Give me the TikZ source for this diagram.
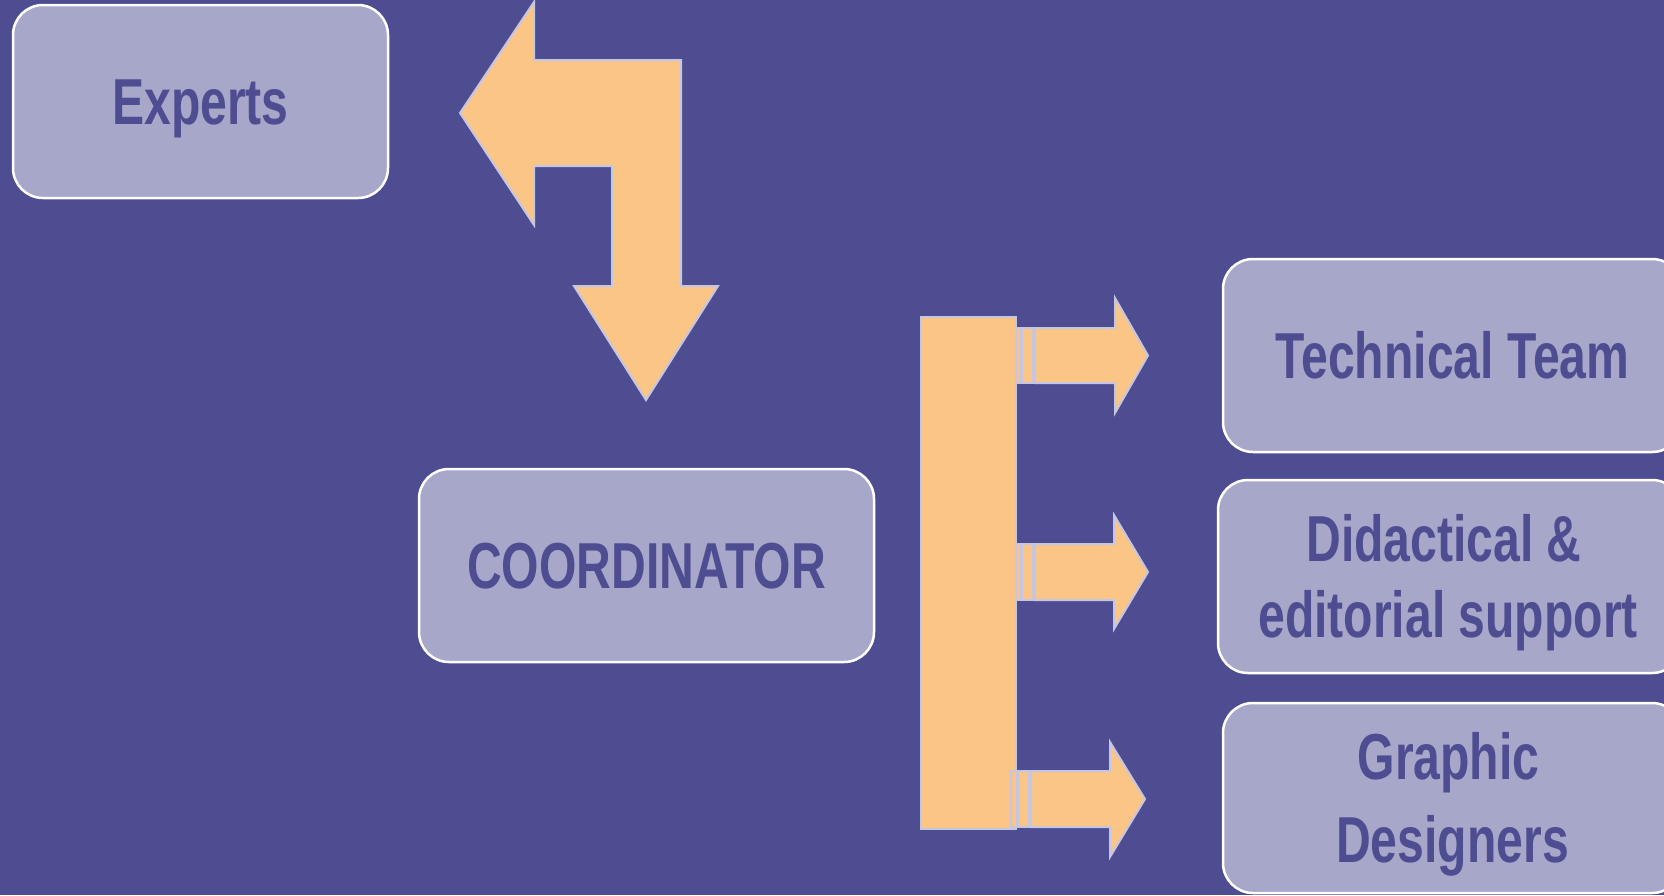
\documentclass[tikz,border=0pt]{standalone}
\usepackage{fontspec}
\newfontfamily\labfont{Liberation Sans}[FakeStretch=0.74]
\definecolor{bg}{HTML}{4F4D91}
\definecolor{boxfill}{HTML}{A7A7C9}
\definecolor{arrfill}{HTML}{FAC585}
\definecolor{arredge}{HTML}{C6C6E2}
\tikzset{
  box/.style={draw=white, line width=2.5pt, fill=boxfill, rounded corners=30pt,
    inner sep=0pt, text=bg, align=center,
    font=\labfont\bfseries\fontsize{65}{76}\selectfont,
    text height=45pt, text depth=0pt},
  shapearrow/.style={draw=arredge, line width=2pt, fill=arrfill, line join=miter},
  stripe/.style={draw=arredge, line width=1.5pt, fill=arrfill},
}
\begin{document}
\begin{tikzpicture}[x=1pt,y=-1pt]
\fill[bg] (0,0) rectangle (1664,895);
\useasboundingbox (0,0) rectangle (1664,895);
\clip (0,0) rectangle (1664,895);

% boxes
\node[box, minimum width=375pt, minimum height=193pt] (experts) at (200.5,101.5) {Experts};
\node[box, minimum width=455pt, minimum height=193pt] (coord) at (646.5,565.5) {COORDINATOR};
\node[box, minimum width=459pt, minimum height=193pt] (tech) at (1452.5,355.5) {Technical Team};
\node[box, minimum width=464pt, minimum height=193pt, text height=121pt] (did) at (1450,576.5) {Didactical \&\hspace*{12pt}\\editorial support\hspace*{4pt}};
\node[box, minimum width=459pt, minimum height=190pt, text height=128pt,
  font=\labfont\bfseries\fontsize{65}{83}\selectfont] (graph) at (1452.5,798) {Graphic\hspace*{8pt}\\Designers};

% bent double arrow between Experts and Coordinator
\draw[shapearrow] (460,113) -- (534,2) -- (534,60) -- (681,60) -- (681,286)
  -- (718,286) -- (646,400) -- (574,286) -- (612,286) -- (612,166)
  -- (534,166) -- (534,225) -- cycle;

% vertical bar
\node[shapearrow, minimum width=95pt, minimum height=512pt, inner sep=0pt] (bar) at (968.5,573) {};

% striped arrow to Technical Team
\draw[stripe] (1016.5,328) rectangle (1020,383);
\draw[stripe] (1022,328) rectangle (1033,383);
\draw[shapearrow] (1035,328) -- (1115,328) -- (1115,298) -- (1148,355.5)
  -- (1115,413) -- (1115,383) -- (1035,383) -- cycle;

% striped arrow to Didactical
\draw[stripe] (1016.5,544) rectangle (1020,600);
\draw[stripe] (1022,544) rectangle (1033,600);
\draw[shapearrow] (1035,544) -- (1114,544) -- (1114,515) -- (1148,572)
  -- (1114,629) -- (1114,600) -- (1035,600) -- cycle;

% striped arrow to Graphic
\draw[stripe] (1011,771) rectangle (1017,827);
\draw[stripe] (1018,771) rectangle (1029,827);
\draw[shapearrow] (1031,771) -- (1110,771) -- (1110,742) -- (1145,799)
  -- (1110,857) -- (1110,827) -- (1031,827) -- cycle;
\end{tikzpicture}
\end{document}
